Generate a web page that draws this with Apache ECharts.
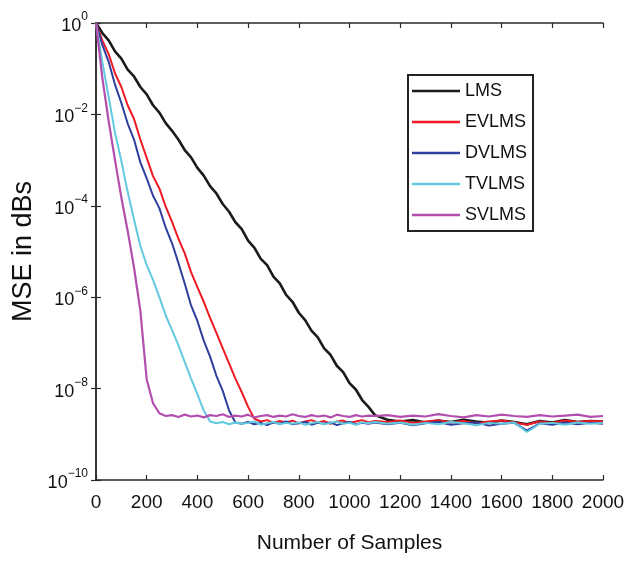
<!DOCTYPE html>
<html>
<head>
<meta charset="utf-8">
<script src="https://cdn.jsdelivr.net/npm/echarts@6/dist/echarts.min.js"></script>
<style>
  html, body { margin: 0; padding: 0; background: #fff; }
  #chart { width: 636px; height: 566px; }
</style>
</head>
<body>
<div id="chart"></div>
<script>
// sample index (x axis)
const samples = [0, 25, 50, 75, 100, 125, 150, 175, 200, 225, 250, 275, 300, 325, 350, 375, 400, 425, 450, 475,
  500, 525, 550, 575, 600, 625, 650, 675, 700, 725, 750, 775, 800, 825, 850, 875, 900, 925, 950, 975,
  1000, 1025, 1050, 1075, 1100, 1150, 1200, 1250, 1300, 1350, 1400, 1450, 1500, 1550, 1600, 1650, 1700,
  1750, 1800, 1850, 1900, 1950, 2000];

// log10(MSE), one value per sample above
const lmsExp = [0.00, -0.22, -0.38, -0.62, -0.78, -1.02, -1.17, -1.40, -1.56, -1.80, -1.96, -2.19, -2.36, -2.55,
  -2.78, -2.94, -3.17, -3.34, -3.57, -3.73, -3.96, -4.13, -4.36, -4.51, -4.76, -4.92, -5.16, -5.30, -5.55,
  -5.70, -5.95, -6.10, -6.34, -6.50, -6.73, -6.88, -7.12, -7.26, -7.50, -7.64, -7.88, -8.02, -8.25, -8.40,
  -8.58, -8.68, -8.72, -8.69, -8.74, -8.70, -8.73, -8.68, -8.72, -8.75, -8.70, -8.73, -8.78, -8.71, -8.74,
  -8.69, -8.73, -8.71, -8.72];
const evlmsExp = [0.00, -0.38, -0.68, -1.10, -1.40, -1.80, -2.10, -2.55, -2.95, -3.35, -3.62, -4.02, -4.35,
  -4.72, -5.04, -5.45, -5.78, -6.10, -6.45, -6.78, -7.12, -7.45, -7.78, -8.08, -8.40, -8.66,
  -8.72, -8.69, -8.75, -8.71, -8.74, -8.70, -8.76, -8.72, -8.69, -8.74, -8.71, -8.77, -8.72, -8.70, -8.75,
  -8.72, -8.69, -8.74, -8.71,
  -8.73, -8.70, -8.75, -8.72, -8.69, -8.74, -8.71, -8.76, -8.72, -8.70, -8.74, -8.79, -8.72, -8.75, -8.70,
  -8.73, -8.71, -8.72];
const dvlmsExp = [0.00, -0.48, -0.85, -1.35, -1.75, -2.20, -2.55, -3.05, -3.40, -3.78, -4.05, -4.48, -4.82,
  -5.25, -5.70, -6.18, -6.52, -6.95, -7.30, -7.72, -8.05, -8.48, -8.74,
  -8.77, -8.73, -8.78, -8.75, -8.80, -8.74, -8.77, -8.72, -8.78, -8.76, -8.73, -8.79, -8.75, -8.77, -8.74,
  -8.80, -8.76, -8.73, -8.78, -8.75, -8.77, -8.74,
  -8.78, -8.75, -8.80, -8.76, -8.73, -8.79, -8.76, -8.74, -8.81, -8.77, -8.75, -8.92, -8.76, -8.79, -8.74,
  -8.78, -8.75, -8.77];
const tvlmsExp = [0.00, -0.85, -1.62, -2.40, -3.02, -3.70, -4.30, -4.88, -5.30, -5.62, -6.00, -6.40, -6.72,
  -7.05, -7.42, -7.78, -8.12, -8.48, -8.72,
  -8.76, -8.73, -8.78, -8.74, -8.77, -8.75, -8.72, -8.79, -8.76, -8.73, -8.78, -8.75, -8.77, -8.74, -8.79,
  -8.76, -8.73, -8.78, -8.75, -8.72, -8.77, -8.75, -8.79, -8.74, -8.76, -8.73,
  -8.77, -8.74, -8.79, -8.75, -8.78, -8.73, -8.76, -8.80, -8.75, -8.77, -8.74, -8.95, -8.77, -8.75, -8.79,
  -8.74, -8.77, -8.75];
const svlmsExp = [0.00, -1.20, -2.15, -3.00, -3.82, -4.55, -5.35, -6.30, -7.80, -8.32, -8.54, -8.60,
  -8.58, -8.62, -8.57, -8.61, -8.59, -8.63, -8.58, -8.60, -8.56, -8.62, -8.59, -8.61, -8.57, -8.63, -8.60,
  -8.58, -8.62, -8.59, -8.61, -8.56, -8.60, -8.62, -8.58, -8.61, -8.59, -8.63, -8.57, -8.60, -8.62, -8.58,
  -8.61, -8.59, -8.60,
  -8.58, -8.62, -8.59, -8.61, -8.56, -8.60, -8.63, -8.58, -8.61, -8.57, -8.60, -8.62, -8.58, -8.61, -8.59,
  -8.57, -8.62, -8.60];

const seriesNames = ['LMS', 'EVLMS', 'DVLMS', 'TVLMS', 'SVLMS'];
const seriesExps = [lmsExp, evlmsExp, dvlmsExp, tvlmsExp, svlmsExp];
const seriesColors = ['#1b1b1b', '#ee1b24', '#2f3f9d', '#62cadf', '#b24fae'];
const seriesWidths = [2.6, 2, 2, 2, 2.2];

const FONT = '"Liberation Sans", Arial, Helvetica, sans-serif';
const AXIS_COLOR = '#2a2a2a';

const toPoints = exps => samples.map((x, i) => [x, Math.pow(10, exps[i])]);

const supLabel = value => {
  const e = Math.round(Math.log10(value));
  return '{b|10}{s|' + (e < 0 ? '\u2212' + (-e) : e) + '}';
};

const xBase = {
  type: 'value', min: 0, max: 2000, interval: 200,
  axisLine: { lineStyle: { color: AXIS_COLOR, width: 1.5 } },
  axisTick: { inside: true, length: 5, lineStyle: { color: AXIS_COLOR, width: 1.2 } },
  splitLine: { show: false }
};
const yBase = {
  type: 'log', logBase: 10, min: 1e-10, max: 1, interval: 2,
  axisLine: { lineStyle: { color: AXIS_COLOR, width: 1.5 } },
  axisTick: { inside: true, length: 5, lineStyle: { color: AXIS_COLOR, width: 1.2 } },
  splitLine: { show: false }
};

const chart = echarts.init(document.getElementById('chart'), null, { renderer: 'canvas' });
chart.setOption({
  backgroundColor: '#fff',
  animation: false,
  grid: { left: 96, right: 33, top: 23, bottom: 86, containLabel: false, outerBoundsMode: 'none' },
  legend: {
    orient: 'vertical', left: 408, top: 75,
    data: seriesNames,
    icon: 'rect', itemWidth: 48, itemHeight: 2.5, itemGap: 9,
    padding: [5, 6, 5, 4],
    borderColor: '#222', borderWidth: 2, backgroundColor: '#fff',
    textStyle: { fontFamily: FONT, fontSize: 18, lineHeight: 22, color: '#111' }
  },
  xAxis: [
    Object.assign({}, xBase, {
      position: 'bottom',
      axisLabel: {
        fontFamily: FONT, fontSize: 19, color: '#111', margin: 13,
        showMaxLabel: true, hideOverlap: false,
        formatter: v => String(v)
      },
      name: 'Number of Samples', nameLocation: 'middle', nameGap: 53,
      nameTextStyle: { fontFamily: FONT, fontSize: 21, color: '#111' }
    }),
    Object.assign({}, xBase, { position: 'top', axisLabel: { show: false } })
  ],
  yAxis: [
    Object.assign({}, yBase, {
      position: 'left',
      axisLabel: {
        margin: 8, formatter: supLabel,
        rich: {
          b: { fontFamily: FONT, fontSize: 18, color: '#111', lineHeight: 24, verticalAlign: 'bottom' },
          s: { fontFamily: FONT, fontSize: 12, color: '#111', lineHeight: 12, verticalAlign: 'top' }
        }
      },
      name: 'MSE in dBs', nameLocation: 'middle', nameGap: 48, nameRotate: 90,
      nameTextStyle: { fontFamily: FONT, fontSize: 27, color: '#111' }
    }),
    Object.assign({}, yBase, { position: 'right', axisLabel: { show: false } })
  ],
  series: seriesNames.map((name, i) => ({
    name, type: 'line',
    xAxisIndex: 0, yAxisIndex: 0,
    data: toPoints(seriesExps[i]),
    showSymbol: false, symbol: 'none',
    color: seriesColors[i],
    lineStyle: { color: seriesColors[i], width: seriesWidths[i] },
    z: 2 + i
  }))
});
</script>
</body>
</html>
